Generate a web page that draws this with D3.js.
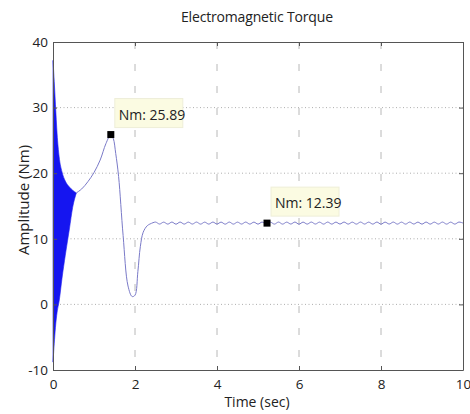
<!DOCTYPE html>
<html>
<head>
    <meta charset="utf-8">
    <title>Electromagnetic Torque</title>
    <script src="https://d3js.org/d3.v7.min.js"></script>
    <style>
        body { margin: 0; background: #fff; font-family: "Open Sans", sans-serif; }
    </style>
</head>
<body>
<script>
    // values
    const xTicks = [0, 2, 4, 6, 8, 10];
    const yTicks = [-10, 0, 10, 20, 30, 40];

    // start-up oscillation band (upper / lower envelope)
    const bandT = [0, 0.03, 0.06, 0.1, 0.15, 0.22, 0.3, 0.4, 0.48, 0.57];
    const bandHi = [37.2, 34, 30.5, 26, 22.5, 20.2, 18.8, 17.9, 17.4, 17];
    const bandLo = [-8.8, -6, -3.5, -1.2, 0.5, 4, 7.5, 11.5, 14.8, 17];

    // transient after the band
    const curveT = [0.57, 0.7, 0.85, 1.0, 1.15, 1.29, 1.41, 1.47, 1.53, 1.6, 1.71, 1.83, 1.93, 2.0, 2.07, 2.13, 2.2, 2.3, 2.4];
    const curveV = [17, 17.6, 18.7, 20.1, 22, 24.5, 25.89, 25.3, 23, 19.5, 10.5, 2.8, 1.2, 1.4, 5, 8.8, 11, 12, 12.35];

    // steady-state ripple, one value every 0.1 s from 2.5 s
    const rippleStart = 2.5;
    const rippleStep = 0.1;
    const rippleV = [12.55, 12.25, 12.54, 12.24, 12.55, 12.23, 12.55, 12.24, 12.54, 12.25,
                     12.55, 12.24, 12.54, 12.24, 12.55, 12.25, 12.54, 12.23, 12.55, 12.24,
                     12.54, 12.25, 12.55, 12.24, 12.54, 12.24, 12.55, 12.25, 12.54, 12.24,
                     12.55, 12.24, 12.54, 12.25, 12.55, 12.23, 12.54, 12.24, 12.55, 12.25,
                     12.54, 12.24, 12.55, 12.24, 12.54, 12.25, 12.55, 12.24, 12.54, 12.24,
                     12.55, 12.25, 12.54, 12.24, 12.55, 12.23, 12.54, 12.25, 12.55, 12.24,
                     12.54, 12.24, 12.55, 12.25, 12.54, 12.24, 12.55, 12.24, 12.54, 12.25,
                     12.55, 12.24, 12.54, 12.24, 12.55, 12.4];

    const tips = [
        { t: 1.41, v: 25.89, label: "Nm: 25.89" },
        { t: 5.22, v: 12.39, label: "Nm: 12.39" }
    ];

    const width = 470, height = 414;
    const x = d3.scaleLinear().domain([0, 10]).range([53, 463]);
    const y = d3.scaleLinear().domain([-10, 40]).range([370, 42]);

    const svg = d3.select("body").append("svg")
        .attr("width", width)
        .attr("height", height);

    // grid
    const grid = svg.append("g");
    grid.selectAll(".gx")
        .data(xTicks.slice(1, -1))
        .enter().append("line")
        .attr("x1", d => x(d)).attr("x2", d => x(d))
        .attr("y1", y(40)).attr("y2", y(-10))
        .attr("stroke", "#b0b0b0")
        .attr("stroke-width", 0.9)
        .attr("stroke-dasharray", "7,15");
    grid.selectAll(".gy")
        .data(yTicks.slice(1, -1))
        .enter().append("line")
        .attr("y1", d => y(d)).attr("y2", d => y(d))
        .attr("x1", x(0)).attr("x2", x(10))
        .attr("stroke", "#999")
        .attr("stroke-width", 0.8)
        .attr("stroke-dasharray", "1,2.5");

    // band
    const bandData = bandT.map((t, i) => ({ t: t, hi: bandHi[i], lo: bandLo[i] }));
    svg.append("path")
        .datum(bandData)
        .attr("fill", "#1515f0")
        .attr("stroke", "#2020ee")
        .attr("stroke-width", 0.6)
        .attr("d", d3.area()
            .x(d => x(d.t))
            .y0(d => y(d.lo))
            .y1(d => y(d.hi))
            .curve(d3.curveMonotoneX));

    // transient + ripple
    const curveData = curveT.map((t, i) => [t, curveV[i]]);
    const rippleData = [[2.4, 12.35]].concat(rippleV.map((v, i) => [rippleStart + i * rippleStep, v]));
    const line = d3.line().x(d => x(d[0])).y(d => y(d[1])).curve(d3.curveCatmullRom);
    [curveData, rippleData].forEach(data => {
        svg.append("path")
            .datum(data)
            .attr("fill", "none")
            .attr("stroke", "#7a7ac8")
            .attr("stroke-width", 1)
            .attr("d", line);
    });

    // axes frame
    const axisColor = "#555";
    const xB = svg.append("g").attr("transform", `translate(0,${y(-10)})`)
        .call(d3.axisBottom(x).tickValues(xTicks).tickSizeInner(-4).tickSizeOuter(0).tickPadding(9));
    const xT = svg.append("g").attr("transform", `translate(0,${y(40)})`)
        .call(d3.axisTop(x).tickValues(xTicks).tickSizeInner(-4).tickSizeOuter(0).tickFormat(""));
    const yL = svg.append("g").attr("transform", `translate(${x(0)},0)`)
        .call(d3.axisLeft(y).tickValues(yTicks).tickSizeInner(-4).tickSizeOuter(0).tickPadding(5)
            .tickFormat(d => d < 0 ? "-" + Math.abs(d) : d));
    const yR = svg.append("g").attr("transform", `translate(${x(10)},0)`)
        .call(d3.axisRight(y).tickValues(yTicks).tickSizeInner(-4).tickSizeOuter(0).tickFormat(""));
    [xB, xT, yL, yR].forEach(g => {
        g.select(".domain").attr("stroke", axisColor);
        g.selectAll(".tick line").attr("stroke", axisColor);
        g.selectAll("text").attr("font-family", "Open Sans, sans-serif")
            .attr("font-size", 13.5).attr("fill", "#222");
    });

    // titles
    svg.append("text")
        .attr("x", 257).attr("y", 22)
        .attr("text-anchor", "middle")
        .attr("font-size", 14).attr("fill", "#222")
        .attr("textLength", 152)
        .text("Electromagnetic Torque");
    svg.append("text")
        .attr("x", 257).attr("y", 407)
        .attr("text-anchor", "middle")
        .attr("font-size", 14).attr("fill", "#222")
        .text("Time (sec)");
    svg.append("text")
        .attr("transform", "translate(29,200) rotate(-90)")
        .attr("text-anchor", "middle")
        .attr("font-size", 15).attr("fill", "#222")
        .text("Amplitude (Nm)");

    // data tips
    tips.forEach(d => {
        const mx = x(d.t), my = y(d.v);
        const g = svg.append("g");
        g.append("rect")
            .attr("x", mx + 4).attr("y", my - 36)
            .attr("width", 68).attr("height", 29)
            .attr("fill", "#fbfbe2")
            .attr("stroke", "#eeeed8");
        g.append("text")
            .attr("x", mx + 8).attr("y", my - 15)
            .attr("font-size", 14).attr("fill", "#222")
            .text(d.label);
        g.append("rect")
            .attr("x", mx - 3.5).attr("y", my - 3.5)
            .attr("width", 7).attr("height", 7)
            .attr("fill", "#000");
    });
</script>
</body>
</html>
